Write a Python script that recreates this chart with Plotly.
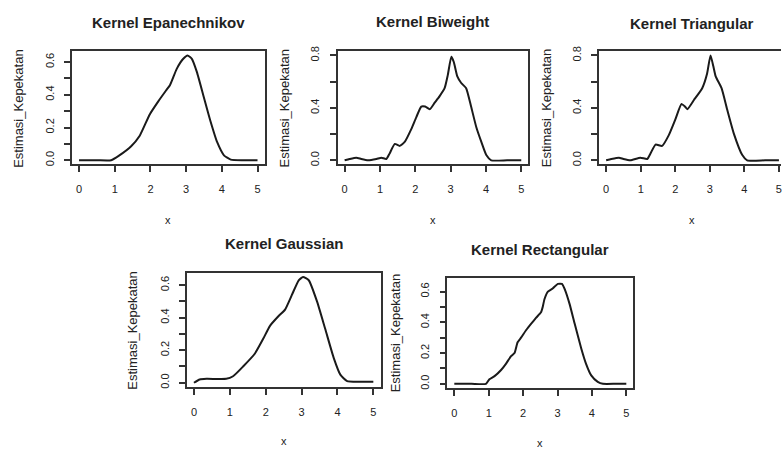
import plotly.graph_objects as go

# ---------------- data ----------------
titles = ["Kernel Epanechnikov", "Kernel Biweight", "Kernel Triangular",
          "Kernel Gaussian", "Kernel Rectangular"]
x_label = "x"
y_label = "Estimasi_Kepekatan"

epa_x = [0.0, 0.5, 0.9, 1.13, 1.46, 1.7, 1.98, 2.22, 2.45, 2.55, 2.74, 2.92, 3.04,
         3.16, 3.3, 3.49, 3.68, 3.87, 4.06, 4.25, 4.6, 5.0]
epa_y = [0.0, 0.0, 0.0, 0.03, 0.086, 0.15, 0.28, 0.36, 0.43, 0.46, 0.56, 0.62, 0.64,
         0.62, 0.54, 0.39, 0.24, 0.11, 0.03, 0.004, 0.0, 0.0]

biw_x = [0.0, 0.14, 0.33, 0.47, 0.66, 0.9, 1.04, 1.18, 1.27, 1.42, 1.56, 1.7, 1.89,
         2.03, 2.17, 2.28, 2.41, 2.55, 2.69, 2.83, 2.92, 3.02, 3.09, 3.19, 3.3, 3.44,
         3.58, 3.73, 3.87, 4.01, 4.15, 4.6, 5.0]
biw_y = [0.0, 0.01, 0.02, 0.01, 0.0, 0.01, 0.02, 0.01, 0.05, 0.125, 0.11, 0.14, 0.24,
         0.33, 0.41, 0.41, 0.39, 0.44, 0.49, 0.55, 0.65, 0.79, 0.75, 0.64, 0.59, 0.55,
         0.41, 0.25, 0.14, 0.04, 0.0, 0.0, 0.0]

tri_x = [0.0, 0.15, 0.37, 0.5, 0.7, 0.99, 1.19, 1.28, 1.43, 1.62, 1.81, 2.0, 2.18,
         2.28, 2.35, 2.54, 2.78, 2.92, 3.02, 3.1, 3.17, 3.34, 3.5, 3.7, 3.94, 4.08,
         4.6, 5.0]
tri_y = [0.0, 0.01, 0.02, 0.01, 0.0, 0.02, 0.01, 0.05, 0.12, 0.11, 0.19, 0.31, 0.43,
         0.41, 0.39, 0.46, 0.55, 0.66, 0.8, 0.72, 0.64, 0.55, 0.39, 0.2, 0.04, 0.0,
         0.0, 0.0]

gau_x = [0.0, 0.16, 0.35, 0.9, 1.09, 1.37, 1.7, 1.93, 2.12, 2.36, 2.54, 2.73, 2.92,
         3.04, 3.2, 3.43, 3.66, 3.9, 4.08, 4.27, 4.6, 5.0]
gau_y = [0.0, 0.02, 0.024, 0.024, 0.04, 0.1, 0.18, 0.27, 0.35, 0.41, 0.45, 0.54, 0.63,
         0.65, 0.63, 0.5, 0.33, 0.15, 0.05, 0.01, 0.006, 0.006]

rec_x = [0.0, 0.5, 0.92, 1.02, 1.17, 1.36, 1.5, 1.65, 1.75, 1.84, 1.94, 2.09, 2.23,
         2.38, 2.52, 2.57, 2.62, 2.72, 2.86, 3.01, 3.13, 3.22, 3.35, 3.5, 3.69, 3.83,
         3.98, 4.17, 4.32, 4.7, 5.0]
rec_y = [0.0, 0.0, 0.0, 0.03, 0.05, 0.09, 0.13, 0.18, 0.2, 0.27, 0.3, 0.35, 0.39,
         0.43, 0.465, 0.5, 0.55, 0.6, 0.62, 0.65, 0.65, 0.61, 0.52, 0.39, 0.23, 0.13,
         0.055, 0.013, 0.0, 0.0, 0.0]

x_tickvals = [0, 1, 2, 3, 4, 5]
x_ticktext = ["0", "1", "2", "3", "4", "5"]
y6_tickvals = [0.0, 0.1, 0.2, 0.3, 0.4, 0.5, 0.6]
y6_ticktext = ["0.0", "", "0.2", "", "0.4", "", "0.6"]
y8_tickvals = [0.0, 0.2, 0.4, 0.6, 0.8]
y8_ticktext = ["0.0", "", "0.4", "", "0.8"]

series = [(epa_x, epa_y), (biw_x, biw_y), (tri_x, tri_y), (gau_x, gau_y), (rec_x, rec_y)]

# ---------------- layout geometry (pixels) ----------------
W, H = 782, 452
# (left, right, top, bottom) of each plot box in pixels
boxes = [(72, 265, 47, 162), (338, 529, 47, 162), (600, 782, 47, 162),
         (187, 381, 272, 388), (448, 634, 277, 389)]
xranges = [[-0.2, 5.2], [-0.2, 5.2], [-0.2, 5.06], [-0.2, 5.2], [-0.2, 5.2]]
yranges = [[-0.026, 0.666], [-0.032, 0.832], [-0.032, 0.832], [-0.026, 0.676],
           [-0.027, 0.69]]
yticks = [(y6_tickvals, y6_ticktext), (y8_tickvals, y8_ticktext),
          (y8_tickvals, y8_ticktext), (y6_tickvals, y6_ticktext),
          (y6_tickvals, y6_ticktext)]
# title y, xlabel y, ylabel x (pixels)
title_y = [18, 17, 19, 242, 248]
xlab_y = [218, 218, 218, 443, 445]
ylab_x = [19, 285, 548, 133, 396]

FONT = "Liberation Sans, Arial, sans-serif"
INK = "#222222"
LINE = "#333333"

fig = go.Figure()
annotations = []
for i, ((xs, ys), (l, r, t, b)) in enumerate(zip(series, boxes)):
    n = "" if i == 0 else str(i + 1)
    fig.add_trace(go.Scatter(x=xs, y=ys, mode="lines", xaxis="x" + n, yaxis="y" + n,
                             line=dict(color="#1a1a1a", width=2, shape="spline",
                                       smoothing=0.5),
                             showlegend=False, hoverinfo="skip"))
    last = i == 2
    xa = dict(domain=[l / W, min(r / W, 1.0)], range=xranges[i], anchor="y" + n,
              showgrid=False, zeroline=False, showline=True, mirror=True,
              linecolor=LINE, linewidth=1.5, ticks="outside", ticklen=6,
              tickwidth=1.5, tickcolor=LINE, tickvals=x_tickvals, ticktext=x_ticktext,
              ticklabelstandoff=8, ticklabeloverflow="allow",
              tickfont=dict(family=FONT, size=11, color=INK))
    ya = dict(domain=[1 - b / H, 1 - t / H], range=yranges[i], anchor="x" + n,
              showgrid=False, zeroline=False, showline=True,
              mirror=(False if last else True),
              linecolor=LINE, linewidth=1.5, ticks="outside", ticklen=6,
              tickwidth=1.5, tickcolor=LINE, tickvals=yticks[i][0],
              ticktext=yticks[i][1], tickangle=-90, ticklabelstandoff=6,
              tickfont=dict(family=FONT, size=11, color=INK))
    fig.update_layout(**{"xaxis" + n: xa, "yaxis" + n: ya})
    cx = ((l + min(r, W)) / 2) if not last else 693
    annotations.append(dict(text="<b>" + titles[i] + "</b>", x=cx / W, y=1 - title_y[i] / H,
                            xref="paper", yref="paper", showarrow=False,
                            xanchor="center", yanchor="middle",
                            font=dict(family=FONT, size=15, color=INK)))
    annotations.append(dict(text=x_label, x=cx / W, y=1 - xlab_y[i] / H,
                            xref="paper", yref="paper", showarrow=False,
                            xanchor="center", yanchor="middle",
                            font=dict(family=FONT, size=11, color=INK)))
    annotations.append(dict(text=y_label, x=ylab_x[i] / W, y=1 - ((t + b) / 2) / H,
                            xref="paper", yref="paper", showarrow=False, textangle=-90,
                            xanchor="center", yanchor="middle",
                            font=dict(family=FONT, size=13, color=INK)))

fig.update_layout(width=W, height=H, margin=dict(l=0, r=0, t=0, b=0),
                  paper_bgcolor="white", plot_bgcolor="white",
                  annotations=annotations)
fig.write_html("out.html", config={"displayModeBar": False},
               post_script="document.body.style.margin='0';")
